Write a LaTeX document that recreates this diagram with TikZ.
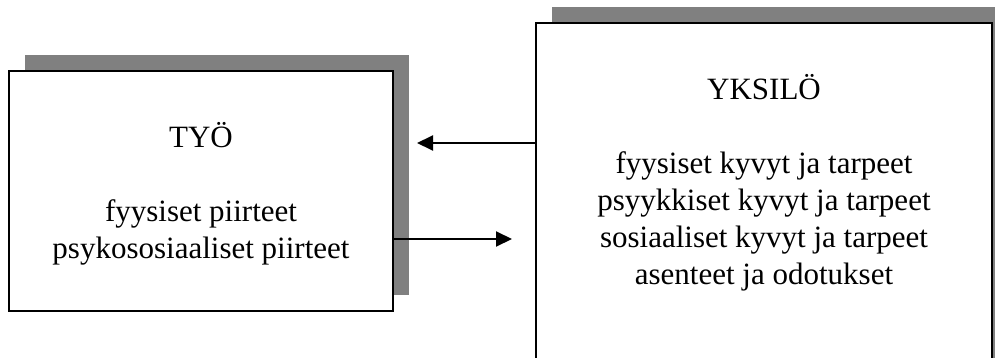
\documentclass[tikz,border=0pt]{standalone}
\usepackage{fontspec}
\setmainfont{Liberation Serif}
\usetikzlibrary{arrows.meta}

\tikzset{
  panel/.style={draw=black, line width=1.8pt, fill=white, inner sep=0pt, outer sep=0pt},
  panelshadow/.style={fill=black!50},
  label/.style={inner sep=0pt, anchor=base, font=\fontsize{31}{37}\selectfont},
  link/.style={line width=2pt, -{Triangle[length=16pt,width=15pt]}}
}

\begin{document}
\begin{tikzpicture}[x=1pt, y=-1pt]
  \useasboundingbox (0,0) rectangle (995,358);
  \clip (0,0) rectangle (995,358);

  % drop shadows, offset up and to the right
  \fill[panelshadow] (25,55) rectangle (409,295);
  \fill[panelshadow] (552,7) rectangle (1008,400);

  % the two panels
  \node[panel, minimum width=384pt, minimum height=240pt] (tyo) at (201,191) {};
  \node[panel, minimum width=456pt, minimum height=360pt] (yksilo) at (764,203) {};

  % panel texts
  \node[label] (tyotext) at (201,148)
    {\begin{tabular}[t]{@{}c@{}}TYÖ\\ \\ fyysiset piirteet\\ psykososiaaliset piirteet\end{tabular}};
  \node[label] (yksilotext) at (764,100)
    {\begin{tabular}[t]{@{}c@{}}YKSILÖ\\ \\ fyysiset kyvyt ja tarpeet\\ psyykkiset kyvyt ja tarpeet\\ sosiaaliset kyvyt ja tarpeet\\ asenteet ja odotukset\end{tabular}};

  % arrows between the panels
  \coordinate (tipleft) at (417,143);
  \coordinate (tipright) at (512,239);
  \draw[link] (yksilo.west |- tipleft) -- (tipleft);
  \draw[link] (tyo.east |- tipright) -- (tipright);
\end{tikzpicture}
\end{document}
